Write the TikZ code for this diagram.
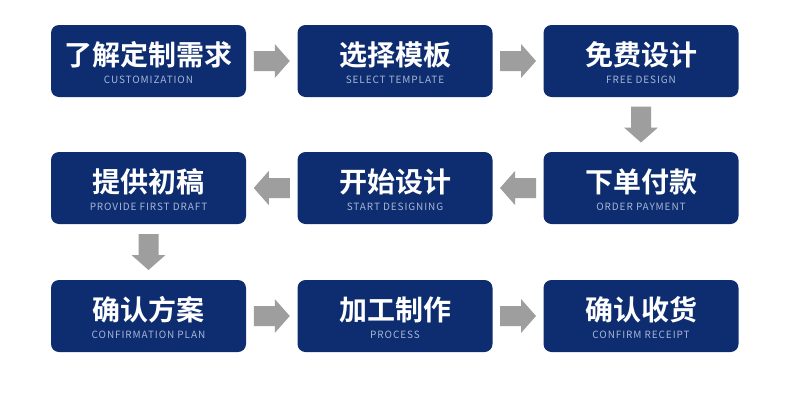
\documentclass[tikz,border=0pt]{standalone}
\usepackage{fontspec}
\usetikzlibrary{calc}
\newfontfamily\cjkbold{Noto Sans CJK SC Bold}
\newfontfamily\subfont{Noto Sans CJK SC}[LetterSpace=9]
\definecolor{navy}{RGB}{13,45,112}
\definecolor{arrowgray}{RGB}{158,158,158}
\definecolor{subcol}{RGB}{168,182,214}
\tikzset{
  stepbox/.style={fill=navy, rounded corners=8pt, minimum width=195pt, minimum height=72pt, inner sep=0pt},
  titletext/.style={text=white, font=\cjkbold\fontsize{28}{30}\selectfont, inner sep=0pt, anchor=center},
  subtext/.style={text=subcol, font=\subfont\fontsize{10}{11}\selectfont, inner sep=0pt, anchor=center},
}
\newcommand\mkstep[5]{% name, x, y, title, subtitle
  \node[stepbox] (#1) at (#2pt,-#3pt) {};
  \node[titletext] (#1t) at ($(#1.center)+(0,6pt)$) {#4};
  \node[subtext] (#1s) at ($(#1.center)+(0,-19pt)$) {#5};
}
\newcommand\blockarrow[3]{% from, to, angle
  \begin{scope}[shift={($(#1)!0.5!(#2)$)}, rotate=#3]
    \fill[arrowgray] (-18pt,-10pt) -- (3pt,-10pt) -- (3pt,-17pt) -- (18pt,0pt) -- (3pt,17pt) -- (3pt,10pt) -- (-18pt,10pt) -- cycle;
  \end{scope}
}
\begin{document}
\begin{tikzpicture}
\useasboundingbox[fill=white] (0,0) rectangle (790pt,-402pt);
\mkstep{a}{148.5}{61}{了解定制需求}{CUSTOMIZATION}
\mkstep{b}{395}{61}{选择模板}{SELECT TEMPLATE}
\mkstep{c}{641}{61}{免费设计}{FREE DESIGN}
\mkstep{d}{641}{188}{下单付款}{ORDER PAYMENT}
\mkstep{e}{395}{188}{开始设计}{START DESIGNING}
\mkstep{f}{148.5}{188}{提供初稿}{PROVIDE FIRST DRAFT}
\mkstep{g}{148.5}{316}{确认方案}{CONFIRMATION PLAN}
\mkstep{h}{395}{316}{加工制作}{PROCESS}
\mkstep{i}{641}{316}{确认收货}{CONFIRM RECEIPT}
\blockarrow{a.east}{b.west}{0}
\blockarrow{b.east}{c.west}{0}
\blockarrow{c.south}{d.north}{-90}
\blockarrow{d.west}{e.east}{180}
\blockarrow{e.west}{f.east}{180}
\blockarrow{f.south}{g.north}{-90}
\blockarrow{g.east}{h.west}{0}
\blockarrow{h.east}{i.west}{0}
\end{tikzpicture}
\end{document}
